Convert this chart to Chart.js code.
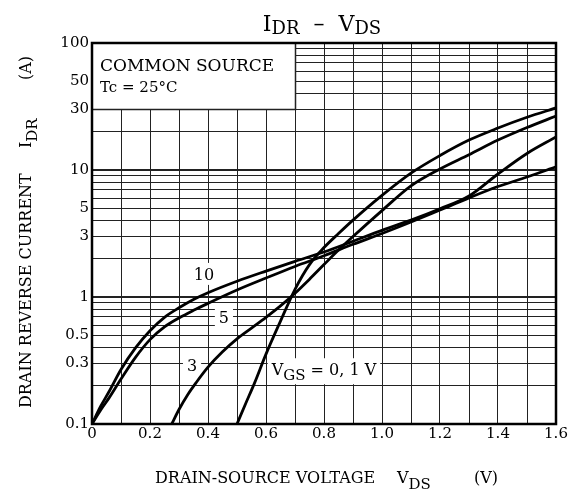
<!DOCTYPE html>
<html>
<head>
<meta charset="utf-8">
<script src="https://cdn.jsdelivr.net/npm/chart.js@4.4.0/dist/chart.umd.min.js"></script>
<style>
  body { margin: 0; background: #fff; }
  #wrap { width: 576px; height: 491px; }
</style>
</head>
<body>
<div id="wrap"><canvas id="grafico" width="576" height="491"></canvas></div>
<script>
// Curvas IDR - VDS (V, A)
const vgs10V = [0, 0.03, 0.06, 0.1, 0.15, 0.2, 0.25, 0.3, 0.35, 0.4, 0.5, 0.6, 0.7, 0.8, 0.9, 1.0, 1.1, 1.2, 1.3, 1.4, 1.5, 1.6];
const vgs10I = [0.1, 0.138, 0.182, 0.269, 0.398, 0.543, 0.692, 0.822, 0.955, 1.08, 1.33, 1.60, 1.91, 2.26, 2.75, 3.35, 4.03, 4.95, 6.24, 9.3, 13.5, 18.2];

const vgs5V = [0, 0.03, 0.06, 0.1, 0.15, 0.2, 0.25, 0.3, 0.35, 0.4, 0.5, 0.6, 0.7, 0.8, 0.9, 1.0, 1.1, 1.2, 1.3, 1.4, 1.5, 1.6];
const vgs5I = [0.1, 0.129, 0.162, 0.226, 0.335, 0.462, 0.582, 0.684, 0.785, 0.891, 1.135, 1.41, 1.74, 2.11, 2.60, 3.16, 3.89, 4.84, 6.03, 7.41, 8.81, 10.6];

const vgs3V = [0.275, 0.3, 0.33, 0.36, 0.4, 0.45, 0.5, 0.55, 0.6, 0.65, 0.7, 0.75, 0.8, 0.85, 0.9, 1.0, 1.1, 1.2, 1.3, 1.4, 1.5, 1.6];
const vgs3I = [0.1, 0.13, 0.17, 0.213, 0.28, 0.37, 0.468, 0.569, 0.692, 0.851, 1.07, 1.38, 1.80, 2.34, 2.99, 4.79, 7.5, 10.2, 13.2, 17.2, 21.6, 26.6];

const vgs0V = [0.5, 0.53, 0.56, 0.6, 0.65, 0.7, 0.75, 0.8, 0.85, 0.9, 1.0, 1.1, 1.2, 1.3, 1.4, 1.5, 1.6];
const vgs0I = [0.1, 0.145, 0.209, 0.355, 0.646, 1.15, 1.80, 2.45, 3.16, 4.03, 6.31, 9.44, 13.0, 17.2, 21.4, 26.0, 30.8];

// Etiquetas de los ejes
const xLabelValues = [0, 0.2, 0.4, 0.6, 0.8, 1.0, 1.2, 1.4, 1.6];
const xTickLabels = ['0', '0.2', '0.4', '0.6', '0.8', '1.0', '1.2', '1.4', '1.6'];
const yLabelValues = [0.1, 0.3, 0.5, 1, 3, 5, 10, 30, 50, 100];
const yTickLabels = ['0.1', '0.3', '0.5', '1', '3', '5', '10', '30', '50', '100'];

// Rejilla: cada 0.1 V y 1..9 por decada
const xGrid = [];
for (let i = 0; i <= 16; i++) xGrid.push(i / 10);
const yGrid = [];
[0.1, 1, 10].forEach(d => {
    for (let m = 1; m <= 9; m++) yGrid.push(+(d * m).toPrecision(3));
});
yGrid.push(100);

const serif = '"DejaVu Serif", serif';
const tickFont = { family: '"DejaVu Serif", serif', size: 15 };

function puntos(vs, is) {
    return vs.map((v, i) => ({ x: v, y: is[i] }));
}

function curva(vs, is) {
    return {
        data: puntos(vs, is),
        borderColor: '#000',
        borderWidth: 2.8,
        pointRadius: 0,
        fill: false,
        cubicInterpolationMode: 'monotone'
    };
}

// Texto con subindices: partes = [[texto, esSub], ...]
function anchoPartes(ctx, partes, size, subSize) {
    let w = 0;
    partes.forEach(([t, sub]) => {
        ctx.font = (sub ? subSize : size) + 'px ' + serif;
        w += ctx.measureText(t).width;
    });
    return w;
}
function dibujarPartes(ctx, partes, x, y, size, subSize, subDy) {
    partes.forEach(([t, sub]) => {
        ctx.font = (sub ? subSize : size) + 'px ' + serif;
        ctx.fillText(t, x, y + (sub ? subDy : 0));
        x += ctx.measureText(t).width;
    });
}

const etiquetasCurvas = [
    { partes: [['10', false]], v: 0.386, i: 1.52 },
    { partes: [['5', false]], v: 0.455, i: 0.70 },
    { partes: [['3', false]], v: 0.345, i: 0.29 },
    { partes: [['V', false], ['GS', true], [' = 0, 1 V', false]], v: 0.80, i: 0.27 }
];

const anotaciones = {
    id: 'anotaciones',
    beforeDatasetsDraw(chart) {
        const ctx = chart.ctx;
        const xs = chart.scales.x, ys = chart.scales.y;
        // Recuadro blanco de condiciones
        const x0 = xs.getPixelForValue(0), x1 = xs.getPixelForValue(0.7);
        const y0 = ys.getPixelForValue(100), y1 = ys.getPixelForValue(30);
        ctx.save();
        ctx.fillStyle = '#fff';
        ctx.fillRect(x0, y0, x1 - x0, y1 - y0);
        ctx.strokeStyle = '#222';
        ctx.lineWidth = 1.5;
        ctx.beginPath();
        ctx.moveTo(Math.round(x1) + 0.5, y0);
        ctx.lineTo(Math.round(x1) + 0.5, y1);
        ctx.lineTo(x0, y1);
        ctx.stroke();
        ctx.fillStyle = '#000';
        ctx.textBaseline = 'alphabetic';
        ctx.textAlign = 'left';
        ctx.font = '17px ' + serif;
        ctx.fillText('COMMON SOURCE', 100, 71);
        ctx.font = '15px ' + serif;
        ctx.fillText('Tc = 25°C', 100, 92);

        // Etiquetas de curvas con fondo blanco
        etiquetasCurvas.forEach(e => {
            const size = 16, sub = 15;
            const w = anchoPartes(ctx, e.partes, size, sub);
            const cx = xs.getPixelForValue(e.v), cy = ys.getPixelForValue(e.i);
            ctx.fillStyle = '#fff';
            ctx.fillRect(cx - w / 2 - 4, cy - 11, w + 8, e.partes.length > 1 ? 26 : 22);
            ctx.fillStyle = '#000';
            dibujarPartes(ctx, e.partes, cx - w / 2, cy + 6, size, sub, 5);
        });
        ctx.restore();
    },
    afterDraw(chart) {
        const ctx = chart.ctx;
        const a = chart.chartArea;
        ctx.save();
        ctx.strokeStyle = '#000';
        ctx.lineWidth = 2.5;
        ctx.strokeRect(a.left, a.top, a.right - a.left, a.bottom - a.top);

        ctx.fillStyle = '#000';
        ctx.textBaseline = 'alphabetic';
        ctx.textAlign = 'left';
        // Titulo
        const titulo = [['I', false], ['DR', true], ['  \u2013  ', false], ['V', false], ['DS', true]];
        const wt = anchoPartes(ctx, titulo, 22, 18);
        dibujarPartes(ctx, titulo, 322 - wt / 2, 31, 22, 18, 3);

        // Titulo eje X
        ctx.font = '16px ' + serif;
        ctx.fillText('DRAIN-SOURCE VOLTAGE', 155, 483);
        dibujarPartes(ctx, [['V', false], ['DS', true]], 397, 483, 16, 15, 6);
        ctx.font = '16px ' + serif;
        ctx.fillText('(V)', 474, 483);

        // Titulo eje Y (rotado)
        ctx.translate(31, 0);
        ctx.rotate(-Math.PI / 2);
        ctx.font = '16px ' + serif;
        ctx.fillText('DRAIN REVERSE CURRENT', -408, 0);
        dibujarPartes(ctx, [['I', false], ['DR', true]], -148, 0, 16, 15, 6);
        ctx.font = '16px ' + serif;
        ctx.fillText('(A)', -80, 0);
        ctx.restore();
    }
};

function mostrarGrafico() {
    const ctx = document.getElementById('grafico').getContext('2d');
    new Chart(ctx, {
        type: 'line',
        data: {
            datasets: [
                curva(vgs10V, vgs10I),
                curva(vgs5V, vgs5I),
                curva(vgs3V, vgs3I),
                curva(vgs0V, vgs0I)
            ]
        },
        options: {
            responsive: false,
            animation: false,
            layout: { padding: { top: 43, right: 20, left: 0, bottom: 0 } },
            plugins: {
                legend: { display: false },
                tooltip: { enabled: false },
                title: { display: false }
            },
            scales: {
                x: {
                    type: 'linear',
                    min: 0,
                    max: 1.6,
                    afterBuildTicks: s => { s.ticks = xGrid.map(v => ({ value: v })); },
                    afterFit: s => { s.height = 67; },
                    ticks: {
                        autoSkip: false,
                        maxRotation: 0,
                        padding: 1,
                        color: '#000',
                        font: tickFont,
                        callback: v => {
                            const i = xLabelValues.findIndex(t => Math.abs(t - v) < 1e-6);
                            return i >= 0 ? xTickLabels[i] : '';
                        }
                    },
                    grid: { color: '#222', lineWidth: 1, drawTicks: false },
                    border: { display: true, color: '#000', width: 2 }
                },
                y: {
                    type: 'logarithmic',
                    min: 0.1,
                    max: 100,
                    afterBuildTicks: s => { s.ticks = yGrid.map(v => ({ value: v })); },
                    afterFit: s => { s.width = 92; },
                    ticks: {
                        autoSkip: false,
                        padding: 3,
                        color: '#000',
                        font: tickFont,
                        callback: v => {
                            const i = yLabelValues.findIndex(t => Math.abs(t - v) < 1e-6);
                            return i >= 0 ? yTickLabels[i] : '';
                        }
                    },
                    grid: {
                        color: '#222',
                        drawTicks: false,
                        lineWidth: c => (c.tick && (c.tick.value === 1 || c.tick.value === 10)) ? 2 : 1
                    },
                    border: { display: true, color: '#000', width: 2 }
                }
            }
        },
        plugins: [anotaciones]
    });
}

document.addEventListener('DOMContentLoaded', mostrarGrafico);
</script>
</body>
</html>
